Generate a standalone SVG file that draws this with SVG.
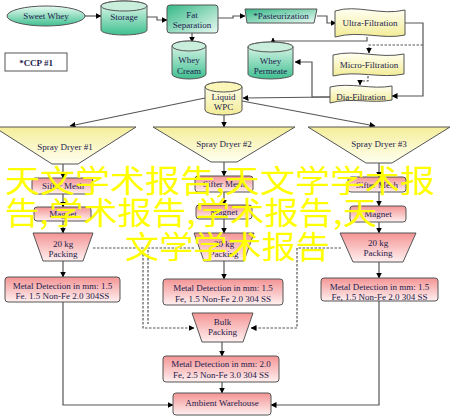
<svg xmlns="http://www.w3.org/2000/svg" width="452" height="420" viewBox="0 0 452 420">
<defs>
<linearGradient id="gG" x1="0" y1="0" x2="0" y2="1"><stop offset="0" stop-color="#e9fbf2"/><stop offset="1" stop-color="#3fbf90"/></linearGradient>
<linearGradient id="gGd" x1="0" y1="0" x2="1" y2="1"><stop offset="0" stop-color="#35b887"/><stop offset="1" stop-color="#eafaf2"/></linearGradient>
<linearGradient id="gY" x1="0" y1="0" x2="0" y2="1"><stop offset="0" stop-color="#fffff2"/><stop offset="1" stop-color="#f3ec96"/></linearGradient>
<linearGradient id="gYt" x1="0" y1="0" x2="0" y2="1"><stop offset="0" stop-color="#f5ee9a"/><stop offset="1" stop-color="#fffff0"/></linearGradient>
<linearGradient id="gP" x1="0" y1="0" x2="0" y2="1"><stop offset="0" stop-color="#f49494"/><stop offset="1" stop-color="#fff0f0"/></linearGradient>
<marker id="ah" markerWidth="6" markerHeight="6" refX="5.5" refY="3" orient="auto" markerUnits="userSpaceOnUse"><path d="M0,0 L6,3 L0,6 Z" fill="#000"/></marker>
</defs>
<style>
.s{stroke:#555;stroke-width:1}
.c{fill:none;stroke:#555;stroke-width:1.2;marker-end:url(#ah)}
.d{fill:none;stroke:#555;stroke-width:1.2;stroke-dasharray:2.5,1.5}
.da{fill:none;stroke:#555;stroke-width:1.2;stroke-dasharray:2.5,1.5;marker-end:url(#ah)}
text{font-family:"Liberation Serif","Times New Roman",serif;font-size:9px;fill:#1c1c4c;text-anchor:middle}
.wm{font-family:"Noto Sans CJK SC","Noto Sans CJK JP",sans-serif;font-size:31px;fill:#ffff00;text-anchor:start}
</style>
<g id="connectors">
<path class="c" d="M85,16 H101"/>
<path class="c" d="M147,17 H157 V20 H167"/>
<path class="c" d="M192,33 V42"/>
<path class="c" d="M218,18 H233 V16 H245"/>
<path class="c" d="M317,16 H327 V23 H336"/>
<path class="c" d="M367,37 V41 H273 V38"/>
<path class="c" d="M405,23 H423 V96 H392"/>
<path class="da" d="M423,45 H369 V53"/>
<path class="da" d="M368,76 V81 H360 V85"/>
<path class="c" d="M330,97 H312 V62 H295"/>
<path class="c" d="M330,97 L243,98"/>
<path class="c" d="M205,98 L70,126"/>
<path class="c" d="M242,101 L375,126"/>
<path class="c" d="M224,115 V127"/>
<path class="c" d="M63,164 V178"/>
<path class="c" d="M63,194 V207"/>
<path class="c" d="M63,221 V233"/>
<path class="c" d="M63,261 V277"/>
<path class="c" d="M224,162 V176"/>
<path class="c" d="M224,192 V205"/>
<path class="c" d="M224,219 V233"/>
<path class="c" d="M224,261 V279"/>
<path class="c" d="M379,163 V177"/>
<path class="c" d="M379,192 V206"/>
<path class="c" d="M379,222 V233"/>
<path class="c" d="M379,262 V278"/>
<path class="da" d="M93,248 H143 V328 H194"/>
<path class="d" d="M194,248 H148 V324"/>
<path class="da" d="M341,248 H297 V328 H251"/>
<path class="c" d="M222,342 V356"/>
<path class="c" d="M222,382 V393"/>
<path class="c" d="M63,302 V405 H173"/>
<path class="c" d="M379,301 V405 H271"/>
</g>
<g id="sweet-whey"><ellipse class="s" cx="46" cy="16" rx="39" ry="10" fill="url(#gG)"/><text x="46" y="19">Sweet Whey</text></g>
<g id="storage"><path class="s" d="M101,6 A23,5 0 0 1 147,6 V30 A23,5 0 0 1 101,30 Z" fill="url(#gG)"/><ellipse class="s" cx="124" cy="6" rx="23" ry="5" fill="#c9efdc"/><text x="124" y="20">Storage</text></g>
<g id="fat-separation"><rect class="s" x="167" y="5" width="51" height="28" rx="3" fill="url(#gGd)"/><text x="192" y="18">Fat</text><text x="192" y="28">Separation</text></g>
<g id="whey-cream"><path class="s" d="M172,46 A17,5 0 0 1 206,46 V74 A17,5 0 0 1 172,74 Z" fill="url(#gG)"/><ellipse class="s" cx="189" cy="46" rx="17" ry="5" fill="#c9efdc"/><text x="189" y="63">Whey</text><text x="189" y="74">Cream</text></g>
<g id="ccp"><rect class="s" x="5" y="53" width="62" height="18" fill="#fff"/><text x="36" y="66" font-weight="bold">*CCP #1</text></g>
<g id="pasteurization"><path class="s" d="M245,9 H317 L314,23 H247 Z" fill="url(#gGd)"/><text x="281" y="19">*Pasteurization</text></g>
<g id="ultra-filtration"><path class="s" d="M335,11 C357,4 380,16 405,10 V35 C383,40 360,30 335,37 Z" fill="url(#gY)"/><text x="370" y="26">Ultra-Filtration</text></g>
<g id="whey-permeate"><path class="s" d="M248,47 A22.5,5 0 0 1 293,47 V74 A22.5,5 0 0 1 248,74 Z" fill="url(#gG)"/><ellipse class="s" cx="270.5" cy="47" rx="22.5" ry="5" fill="#c9efdc"/><text x="270.5" y="64">Whey</text><text x="270.5" y="74">Permeate</text></g>
<g id="micro-filtration"><path class="s" d="M333,55 C356,49 380,59 404,54 V74 C381,79 357,70 333,76 Z" fill="url(#gY)"/><text x="369" y="68">Micro-Filtration</text></g>
<g id="dia-filtration"><path class="s" d="M330,87 C351,82 371,90 392,86 V100 C371,104 351,97 330,103 Z" fill="url(#gY)"/><text x="361" y="100">Dia-Filtration</text></g>
<g id="liquid-wpc"><path class="s" d="M205,87 A18.5,5 0 0 1 242,87 V110 A18.5,5 0 0 1 205,110 Z" fill="url(#gY)"/><ellipse class="s" cx="223.5" cy="87" rx="18.5" ry="5" fill="#fbf6b8"/><text x="223.5" y="100">Liquid</text><text x="223.5" y="110">WPC</text></g>
<g id="spray-dryer-1"><path class="s" d="M-6,127 H136 L78,164 H52 Z" fill="url(#gYt)"/><text x="65" y="150">Spray Dryer #1</text></g>
<g id="spray-dryer-2"><path class="s" d="M153,127 H295 L237,162 H211 Z" fill="url(#gYt)"/><text x="224" y="147">Spray Dryer #2</text></g>
<g id="spray-dryer-3"><path class="s" d="M308,127 H450 L392,163 H366 Z" fill="url(#gYt)"/><text x="379" y="147">Spray Dryer #3</text></g>
<g id="sifter-1"><rect class="s" x="32" y="178" width="61" height="16" rx="3" fill="url(#gP)"/><text x="63" y="189">Sifter Mesh</text></g>
<g id="sifter-2"><rect class="s" x="195" y="176" width="58" height="16" rx="3" fill="url(#gP)"/><text x="224" y="187">Sifter Mesh</text></g>
<g id="sifter-3"><rect class="s" x="348" y="177" width="58" height="15" rx="3" fill="url(#gP)"/><text x="377" y="188">Sifter Mesh</text></g>
<g id="magnet-1"><rect class="s" x="34" y="207" width="57" height="14" rx="3" fill="url(#gP)"/><text x="63" y="217">Magnet</text></g>
<g id="magnet-2"><rect class="s" x="196" y="205" width="56" height="14" rx="3" fill="url(#gP)"/><text x="224" y="215">Magnet</text></g>
<g id="magnet-3"><rect class="s" x="350" y="206" width="56" height="16" rx="3" fill="url(#gP)"/><text x="378" y="217">Magnet</text></g>
<g id="packing-1"><path class="s" d="M33,233 H93 L83,261 H43 Z" fill="url(#gP)"/><text x="63" y="247">20 kg</text><text x="63" y="257">Packing</text></g>
<g id="packing-2"><path class="s" d="M194,233 H254 L244,261 H204 Z" fill="url(#gP)"/><text x="224" y="247">20 kg</text><text x="224" y="257">Packing</text></g>
<g id="packing-3"><path class="s" d="M340,233 H416 L403,262 H353 Z" fill="url(#gP)"/><text x="378" y="246">20 kg</text><text x="378" y="256">Packing</text></g>
<g id="metal-1"><rect class="s" x="5" y="277" width="115" height="25" rx="3" fill="url(#gP)"/><text x="62.5" y="289">Metal Detection in mm: 1.5</text><text x="62.5" y="299">Fe. 1.5 Non-Fe 2.0 304SS</text></g>
<g id="metal-2"><rect class="s" x="163" y="279" width="120" height="26" rx="3" fill="url(#gP)"/><text x="223" y="291">Metal Detection in mm: 1.5</text><text x="223" y="302">Fe, 1.5 Non-Fe 2.0 304 SS</text></g>
<g id="metal-3"><rect class="s" x="321" y="278" width="117" height="23" rx="3" fill="url(#gP)"/><text x="379.5" y="290">Metal Detection in mm: 1.5</text><text x="379.5" y="300">Fe, 1.5 Non-Fe 2.0 304 SS</text></g>
<g id="bulk-packing"><path class="s" d="M192,313 H253 L243,342 H202 Z" fill="url(#gP)"/><text x="222.5" y="325">Bulk</text><text x="222.5" y="335">Packing</text></g>
<g id="metal-4"><rect class="s" x="163" y="356" width="116" height="26" rx="3" fill="url(#gP)"/><text x="221" y="367">Metal Detection in mm: 2.0</text><text x="221" y="378">Fe, 2.5 Non-Fe 3.0 304 SS</text></g>
<g id="ambient-warehouse"><rect class="s" x="173" y="393" width="98" height="22" rx="3" fill="url(#gP)"/><text x="222" y="406">Ambient Warehouse</text></g>
<g id="watermark">
<text class="wm" x="5" y="192" textLength="430" lengthAdjust="spacingAndGlyphs">天文学术报告,天文学学术报</text>
<text class="wm" x="5" y="224" textLength="372" lengthAdjust="spacingAndGlyphs">告,学术报告,学术报告,天</text>
<text class="wm" x="125" y="258" textLength="205" lengthAdjust="spacingAndGlyphs">文学学术报告</text>
</g>
</svg>
